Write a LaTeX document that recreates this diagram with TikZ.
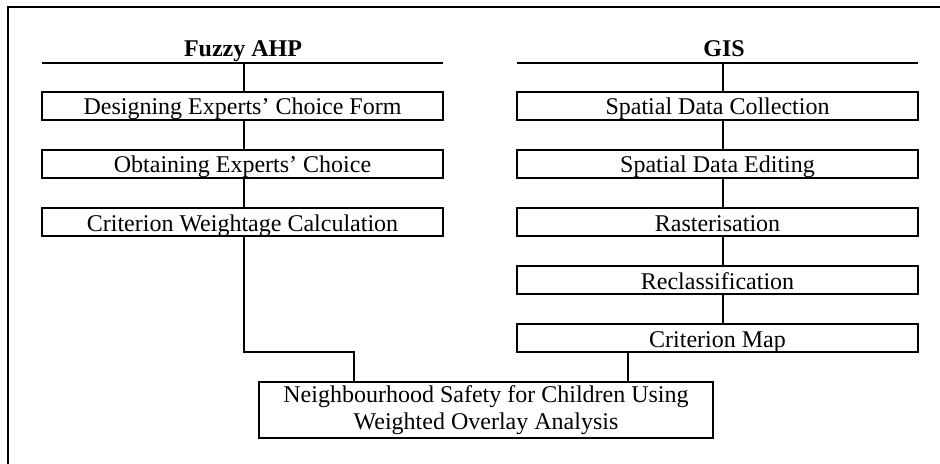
\documentclass[tikz,border=0pt]{standalone}
\usepackage{fontspec}
\setmainfont{Liberation Serif}
\usepackage{tikz}
\usetikzlibrary{positioning, calc}

\begin{document}
\begin{tikzpicture}[
  x=0.5pt, y=0.5pt,
  stage/.style={draw, line width=1pt, minimum width=200.5pt, text height=11.5pt, text depth=2.5pt, inner sep=0pt, font=\fontsize{12}{13.8}\selectfont},
  result/.style={draw, line width=1pt, minimum width=227pt, minimum height=28pt, inner sep=0pt, align=center, font=\fontsize{12}{13.8}\selectfont},
  head/.style={anchor=base, font=\fontsize{12}{13.8}\selectfont\bfseries},
  link/.style={line width=1pt}
]
  \useasboundingbox (0,0) rectangle (940,464);
  \draw[link] (8,0) -- (8,457) -- (940,457);

  \node[head] (fuzzy) at (243,407) {Fuzzy AHP};
  \node[head] (gis) at (724,407) {GIS};
  \coordinate (fl) at (42,401);
  \coordinate (fr) at (443,401);
  \coordinate (gl) at (517,401);
  \coordinate (gr) at (918,401);
  \coordinate (fx) at (244,0);
  \coordinate (gx) at (723,0);

  \node[stage] (f1) at (242.5,358) {Designing Experts' Choice Form};
  \node[stage] (f2) at (242.5,300) {Obtaining Experts' Choice};
  \node[stage] (f3) at (242.5,241.5) {Criterion Weightage Calculation};

  \node[stage] (g1) at (717.5,358) {Spatial Data Collection};
  \node[stage] (g2) at (717.5,300) {Spatial Data Editing};
  \node[stage] (g3) at (717.5,241.5) {Rasterisation};
  \node[stage] (g4) at (717.5,183.5) {Reclassification};
  \node[stage] (g5) at (717.5,125.5) {Criterion Map};

  \node[result] (out) at (486,54) {Neighbourhood Safety for Children Using\\Weighted Overlay Analysis};

  \draw[link] (fl) -- (fr);
  \draw[link] (gl) -- (gr);
  \draw[link] (fl -| fx) -- (f1.north -| fx);
  \draw[link] (f1.south -| fx) -- (f2.north -| fx);
  \draw[link] (f2.south -| fx) -- (f3.north -| fx);
  \draw[link] (gl -| gx) -- (g1.north -| gx);
  \draw[link] (g1.south -| gx) -- (g2.north -| gx);
  \draw[link] (g2.south -| gx) -- (g3.north -| gx);
  \draw[link] (g3.south -| gx) -- (g4.north -| gx);
  \draw[link] (g4.south -| gx) -- (g5.north -| gx);

  \coordinate (jl) at (354,112);
  \coordinate (jr) at (628,0);
  \draw[link] (f3.south -| fx) |- (jl) -- (out.north -| jl);
  \draw[link] (g5.south -| jr) -- (out.north -| jr);
\end{tikzpicture}
\end{document}
